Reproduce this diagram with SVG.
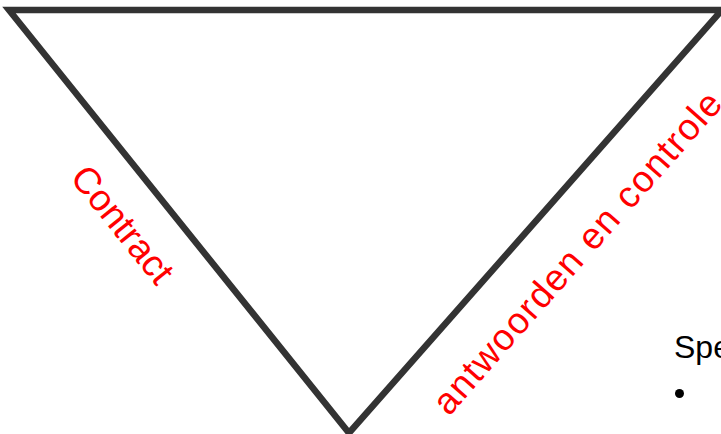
<svg xmlns="http://www.w3.org/2000/svg" width="721" height="434" viewBox="0 0 721 434">
  <style>
    .edge { fill: none; stroke: #333333; stroke-width: 6.5; stroke-linejoin: miter; }
    .lbl { fill: #ff0000; font-family: "Liberation Sans", Arial, sans-serif; font-size: 37px; }
    .txt { fill: #000000; font-family: "Liberation Sans", Arial, sans-serif; font-size: 32px; }
  </style>
  <rect width="721" height="434" fill="#ffffff"/>
  <g id="triangle">
    <polygon class="edge" points="9,10 722,10 349,433"/>
  </g>
  <g id="labels">
    <text class="lbl" transform="translate(69,178) rotate(51.1)">Contract</text>
    <text class="lbl" transform="translate(449,417) rotate(-48.6)" textLength="416" lengthAdjust="spacing">antwoorden en controle</text>
  </g>
  <g id="list">
    <text class="txt" x="674" y="358">Spe</text>
    <circle cx="679.5" cy="393.5" r="4.5" fill="#000000"/>
  </g>
</svg>
